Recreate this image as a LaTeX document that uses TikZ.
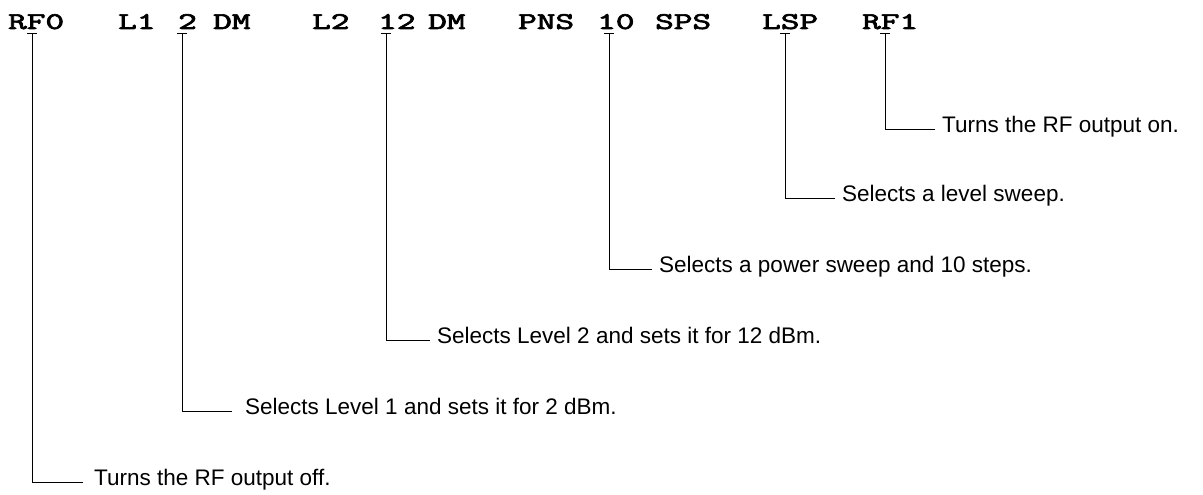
\documentclass[tikz,border=0pt]{standalone}
\usepackage{fontspec}
\setmainfont{Liberation Sans}
\newfontfamily\cmdfont{lmmono10-regular.otf}[FakeBold=2.5]
\usepackage{graphicx}
\newcommand\cmdtok[1]{\scalebox{1.48}[1]{\fontsize{24}{24}\selectfont\cmdfont #1}}
\begin{document}
\begin{tikzpicture}[x=1pt,y=-1pt,
  tok/.style={anchor=base west,inner sep=0pt},
  lbl/.style={anchor=west,inner xsep=#1,inner ysep=0pt,text height=0.716em,text depth=0pt,font=\fontsize{22.5}{26}\selectfont},
  lbl/.default=7pt,
  wire/.style={line width=1pt,black},
  bar/.style={line width=1pt,black}]
\useasboundingbox (0,0) rectangle (1203,495);
% command tokens
\node[tok] (t1)  at (8,29)   {\cmdtok{RF0}};
\node[tok] (t2)  at (118,29) {\cmdtok{L1}};
\node[tok] (t3)  at (178,29) {\cmdtok{2}};
\node[tok] (t4)  at (213,29) {\cmdtok{DM}};
\node[tok] (t5)  at (312,29) {\cmdtok{L2}};
\node[tok] (t6)  at (378,29) {\cmdtok{12}};
\node[tok] (t7)  at (428,29) {\cmdtok{DM}};
\node[tok] (t8)  at (518,29) {\cmdtok{PNS}};
\node[tok] (t9)  at (597,29) {\cmdtok{10}};
\node[tok] (t10) at (655,29) {\cmdtok{SPS}};
\node[tok] (t11) at (762,29) {\cmdtok{LSP}};
\node[tok] (t12) at (862,29) {\cmdtok{RF1}};
% tick points
\coordinate (k1) at (32,34);
\coordinate (k2) at (182,34);
\coordinate (k3) at (386,34);
\coordinate (k4) at (609,34);
\coordinate (k5) at (785,34);
\coordinate (k6) at (885,34);
\foreach \k in {k1,k2,k3,k4,k5,k6}
  \draw[bar] ([xshift=-5pt]\k) -- ([xshift=5pt]\k);
% labels
\node[lbl] (l6) at (935,129) {Turns the RF output on.};
\node[lbl] (l5) at (835,198) {Selects a level sweep.};
\node[lbl] (l4) at (652,269) {Selects a power sweep and 10 steps.};
\node[lbl] (l3) at (430,340) {Selects Level 2 and sets it for 12 dBm.};
\node[lbl=13pt] (l2) at (232,411) {Selects Level 1 and sets it for 2 dBm.};
\node[lbl=11pt] (l1) at (83,482)  {Turns the RF output off.};
% connectors
\draw[wire] (k6) |- (l6.west);
\draw[wire] (k5) |- (l5.west);
\draw[wire] (k4) |- (l4.west);
\draw[wire] (k3) |- (l3.west);
\draw[wire] (k2) |- (l2.west);
\draw[wire] (k1) |- (l1.west);
\end{tikzpicture}
\end{document}
